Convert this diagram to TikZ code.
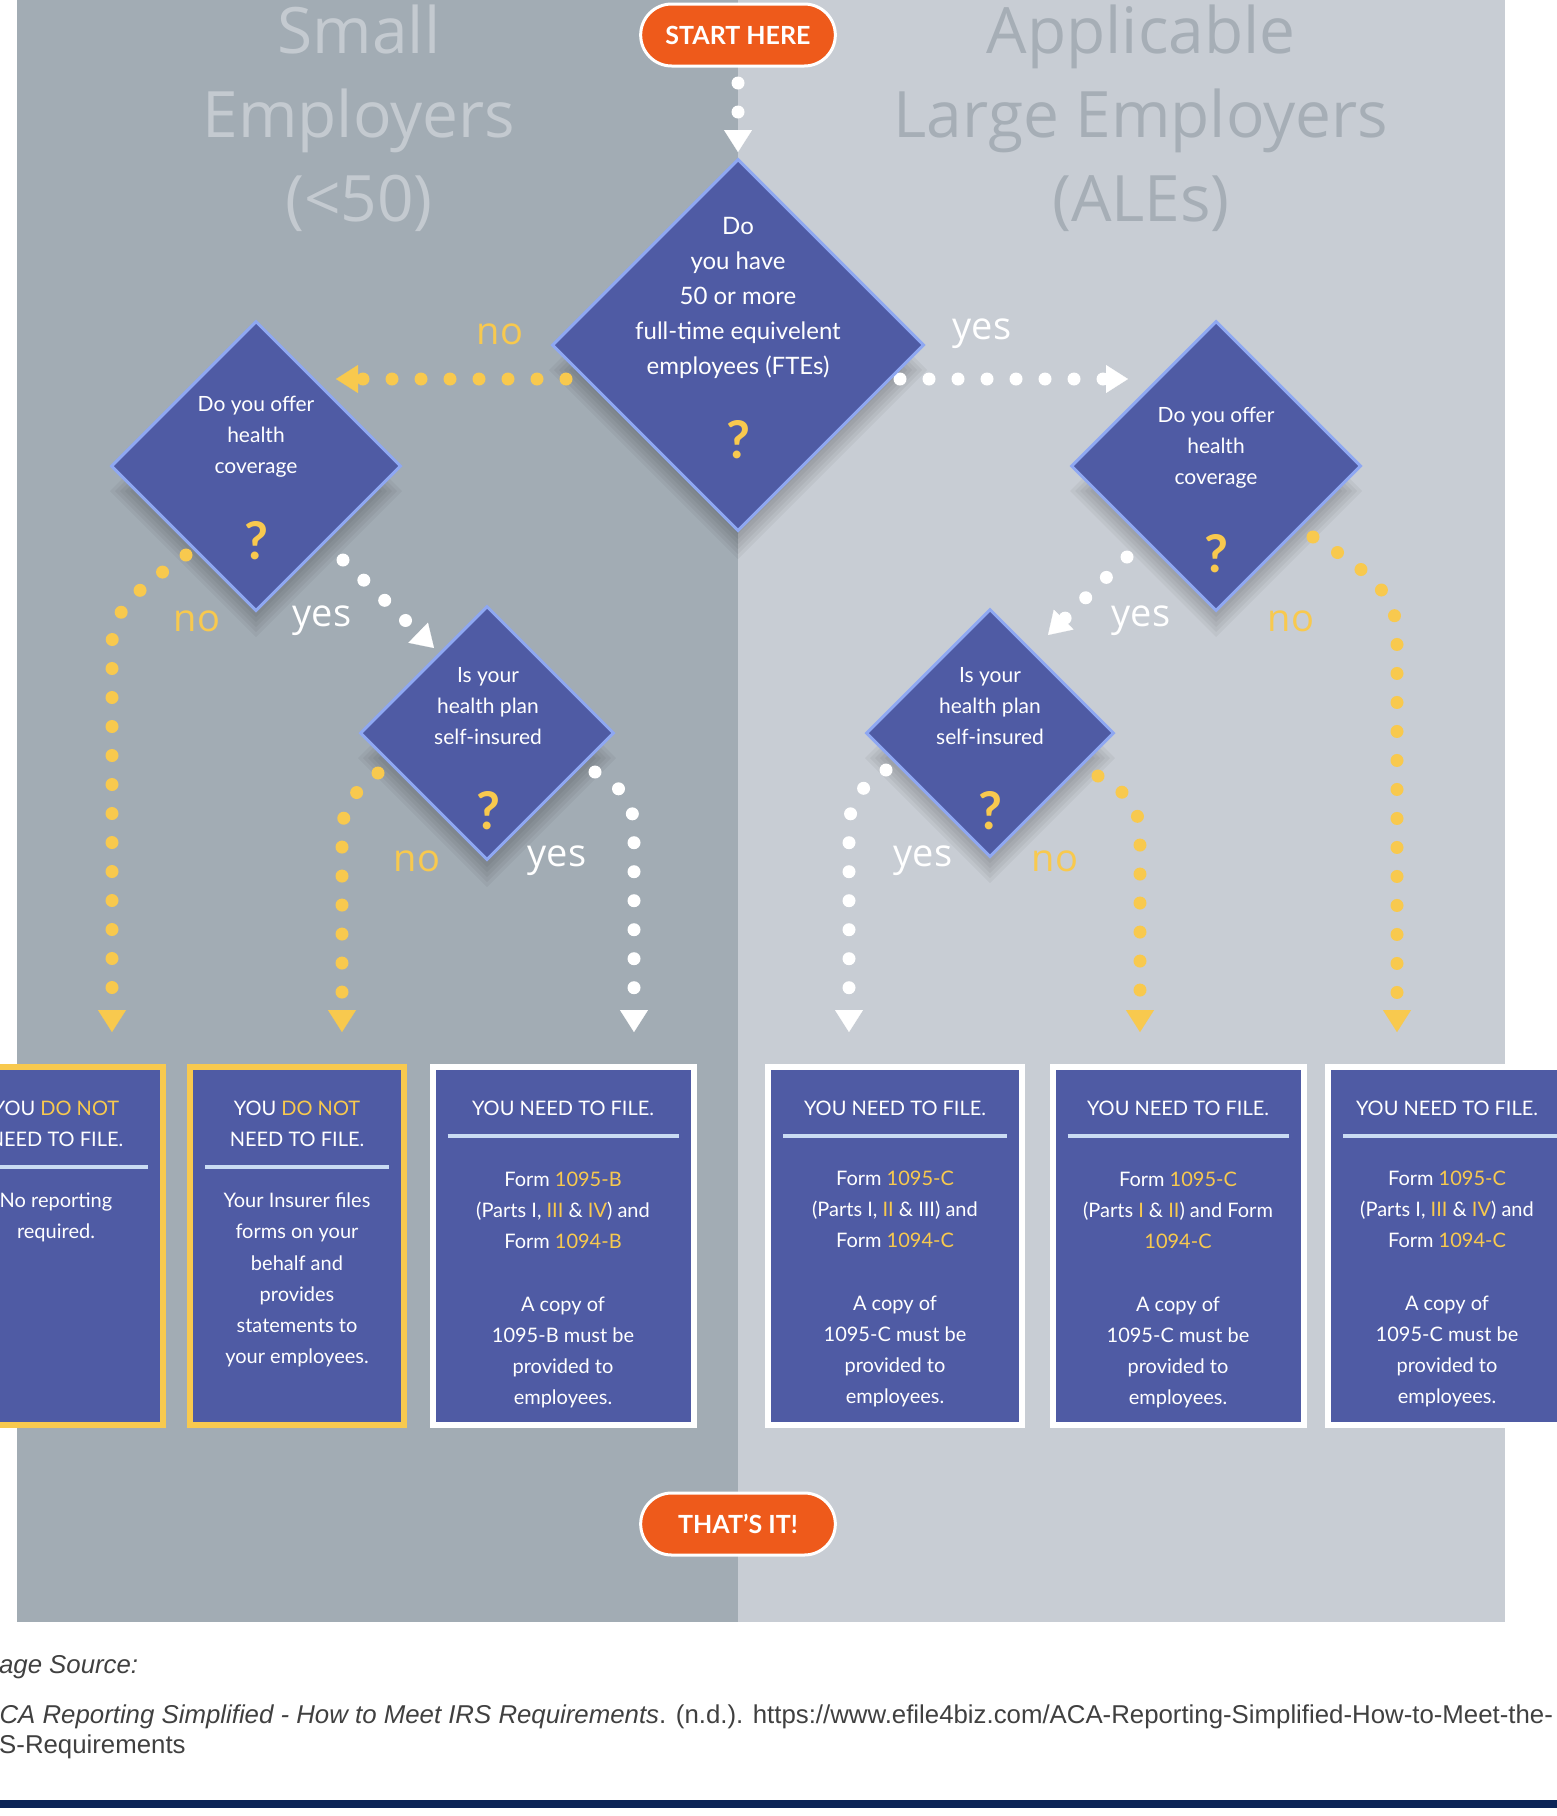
\documentclass[tikz,border=0pt]{standalone}
\usepackage{fontspec}
\setmainfont{Lato}
\newfontfamily\headfont{Open Sans}
\newfontfamily\capfont{Liberation Sans}
\usetikzlibrary{positioning,calc,shapes.geometric,shapes.misc,arrows.meta}
\definecolor{panelL}{HTML}{A2ACB4}
\definecolor{panelR}{HTML}{C8CDD4}
\definecolor{titleL}{HTML}{C4CAD0}
\definecolor{titleR}{HTML}{A6AEB6}
\definecolor{qblue}{HTML}{4F5BA4}
\definecolor{qedge}{HTML}{8FA8F2}
\definecolor{gold}{HTML}{F8C94E}
\definecolor{flame}{HTML}{EE5A1B}
\definecolor{rulecol}{HTML}{CADCF4}
\definecolor{navy}{HTML}{0C2557}
\definecolor{capgray}{HTML}{404040}
\newcommand{\hl}[1]{\textcolor{gold}{#1}}

\begin{document}
\begin{tikzpicture}[x=0.5pt,y=-0.5pt,
  q/.style={diamond,aspect=1,fill=qblue,draw=qedge,line width=1.5pt,inner sep=0pt},
  qtext/.style={text=white,align=center,font=\fontsize{10.5}{15.6}\selectfont},
  qmark/.style={text=gold,font=\fontsize{26}{26}\selectfont\bfseries},
  pill/.style={rounded rectangle,fill=flame,draw=white,line width=1.5pt,minimum width=104pt,minimum height=31pt,text=white,font=\fontsize{12.5}{12.5}\selectfont\bfseries},
  res/.style={rectangle,fill=qblue,line width=3pt,minimum height=179pt},
  restext/.style={text=white,align=center,font=\fontsize{10}{15.6}\selectfont},
  sep/.style={draw=rulecol,line width=2pt},
  lbl/.style={font=\headfont\fontsize{19}{19}\selectfont},
  dots/.style={line width=6.5pt,line cap=round,dash pattern=on 0pt off 14.5pt,-{Triangle[width=14pt,length=11pt,line width=0.1pt]}},
  src/.style={anchor=west,inner sep=0pt,text=capgray,font=\capfont\fontsize{12.9}{15}\selectfont},
  ]
\useasboundingbox (0,0) rectangle (1557,1816);
% two panels
\fill[panelL] (17,0) rectangle (738,1622);
\fill[panelR] (738,0) rectangle (1505,1622);
\node[font=\headfont\fontsize{32}{42}\selectfont,text=titleL,align=center] (small) at (359,118) {Small\\Employers\\(<50)};
\node[font=\headfont\fontsize{32}{42}\selectfont,text=titleR,align=center] (ale) at (1141,118) {Applicable\\Large Employers\\(ALEs)};

% soft shadows under the questions
\foreach \x/\y/\s in {738/345/188,256/466/145,1216/466/145,487/733/128,990/733/124}
  \foreach \k in {1,...,6}
    \fill[black,opacity=0.045] (\x,{\y+25-\s-6+\k*5}) -- ({\x+\s+6-\k*5},\y+25) -- (\x,{\y+25+\s+6-\k*5}) -- ({\x-\s-6+\k*5},\y+25) -- cycle;

% connector ends
\coordinate (s0) at (738,83);
\coordinate (s1) at (738,152);
\coordinate (mno0) at (566,379);
\coordinate (mno1) at (336,379);
\coordinate (myes0) at (900,379);
\coordinate (myes1) at (1128,379);
\coordinate (clno0) at (186,555);
\coordinate (clno1) at (112,1032);
\coordinate (clyes0) at (343,560);
\coordinate (clyes1) at (434,648);
\coordinate (slno0) at (378,773);
\coordinate (slno1) at (342,1032);
\coordinate (slyes0) at (595,772);
\coordinate (slyes1) at (634,1032);
\coordinate (cryes0) at (1127,557);
\coordinate (cryes1) at (1048,635);
\coordinate (crno0) at (1313,537);
\coordinate (crno1) at (1397,1032);
\coordinate (sryes0) at (886,770);
\coordinate (sryes1) at (849,1032);
\coordinate (srno0) at (1098,776);
\coordinate (srno1) at (1140,1032);

\draw[dots,white] (s0) -- (s1);
\draw[dots,gold] (mno0) -- (mno1);
\draw[dots,white] (myes0) -- (myes1);
\draw[dots,gold] (clno0) .. controls (140,588) and (112,608) .. (112,645) -- (clno1);
\draw[dots,white] (clyes0) -- (clyes1);
\draw[dots,gold] (slno0) .. controls (356,790) and (342,805) .. (342,835) -- (slno1);
\draw[dots,white] (slyes0) .. controls (620,786) and (634,800) .. (634,830) -- (slyes1);
\draw[dots,white] (cryes0) -- (cryes1);
\draw[dots,gold] (crno0) .. controls (1360,566) and (1397,590) .. (1397,635) -- (crno1);
\draw[dots,white] (sryes0) .. controls (862,786) and (849,800) .. (849,830) -- (sryes1);
\draw[dots,gold] (srno0) .. controls (1124,790) and (1140,805) .. (1140,835) -- (srno1);

% questions
\node[q,minimum size=186pt] (fte) at (738,345) {};
\node[q,minimum size=145pt] (covL) at (256,466) {};
\node[q,minimum size=145pt] (covR) at (1216,466) {};
\node[q,minimum size=127pt] (selfL) at (487,733) {};
\node[q,minimum size=124pt] (selfR) at (990,733) {};
\node[qtext,font=\fontsize{12}{17.4}\selectfont] (fte-t) at (738,298) {Do\\you have\\50 or more\\full-time equivelent\\employees (FTEs)};
\node[qmark] (fte-q) at (738,440) {?};
\node[qtext] (covL-t) at (256,437) {Do you offer\\health\\coverage};
\node[qmark] (covL-q) at (256,541) {?};
\node[qtext] (covR-t) at (1216,448) {Do you offer\\health\\coverage};
\node[qmark] (covR-q) at (1216,554) {?};
\node[qtext] (selfL-t) at (488,706) {Is your\\health plan\\self-insured};
\node[qmark] (selfL-q) at (488,811) {?};
\node[qtext] (selfR-t) at (990,706) {Is your\\health plan\\self-insured};
\node[qmark] (selfR-q) at (990,811) {?};

% answers
\node[lbl,text=gold] (fte-no) at (500,334) {no};
\node[lbl,text=white] (fte-yes) at (982,334) {yes};
\node[lbl,text=gold] (covL-no) at (197,621) {no};
\node[lbl,text=white] (covL-yes) at (322,621) {yes};
\node[lbl,text=gold] (selfL-no) at (417,861) {no};
\node[lbl,text=white] (selfL-yes) at (557,861) {yes};
\node[lbl,text=white] (covR-yes) at (1141,621) {yes};
\node[lbl,text=gold] (covR-no) at (1291,621) {no};
\node[lbl,text=white] (selfR-yes) at (923,861) {yes};
\node[lbl,text=gold] (selfR-no) at (1055,861) {no};

% results
\node[res,draw=gold,minimum width=107pt] (b1) at (56,1246) {};
\node[res,draw=gold,minimum width=107pt] (b2) at (297,1246) {};
\node[res,draw=white,minimum width=130.5pt] (b3) at (563,1246) {};
\node[res,draw=white,minimum width=127pt] (b4) at (895,1246) {};
\node[res,draw=white,minimum width=125.5pt] (b5) at (1178,1246) {};
\node[res,draw=white,minimum width=122pt] (b6) at (1450,1246) {};
\foreach \b in {b1,b2}
  \draw[sep] ($(\b.north west)+(18,103)$) -- ($(\b.north east)+(-18,103)$);
\foreach \b in {b3,b4,b5,b6}
  \draw[sep] ($(\b.north west)+(18,72)$) -- ($(\b.north east)+(-18,72)$);
\node[restext] (b1-h) at (56,1124) {YOU \hl{DO NOT}\\NEED TO FILE.};
\node[restext] (b2-h) at (297,1124) {YOU \hl{DO NOT}\\NEED TO FILE.};
\node[restext] (b3-h) at (563,1108) {YOU NEED TO FILE.};
\node[restext] (b4-h) at (895,1108) {YOU NEED TO FILE.};
\node[restext] (b5-h) at (1178,1108) {YOU NEED TO FILE.};
\node[restext] (b6-h) at (1447,1108) {YOU NEED TO FILE.};
\node[restext] (b1-t) at (56,1217) {No reporting\\required.};
\node[restext] (b2-t) at (297,1280) {Your Insurer files\\forms on your\\behalf and\\provides\\statements to\\your employees.};
\node[restext] (b3-t) at (563,1290) {Form \hl{1095-B}\\(Parts I, \hl{III} \& \hl{IV}) and\\Form \hl{1094-B}\\[15.6pt]A copy of\\1095-B must be\\provided to\\employees.};
\node[restext] (b4-t) at (895,1289) {Form \hl{1095-C}\\(Parts I, \hl{II} \& III) and\\Form \hl{1094-C}\\[15.6pt]A copy of\\1095-C must be\\provided to\\employees.};
\node[restext] (b5-t) at (1178,1290) {Form \hl{1095-C}\\(Parts \hl{I} \& \hl{II}) and Form\\\hl{1094-C}\\[15.6pt]A copy of\\1095-C must be\\provided to\\employees.};
\node[restext] (b6-t) at (1447,1289) {Form \hl{1095-C}\\(Parts I, \hl{III} \& \hl{IV}) and\\Form \hl{1094-C}\\[15.6pt]A copy of\\1095-C must be\\provided to\\employees.};

\node[pill] (start) at (738,35) {START HERE};
\node[pill] (done) at (738,1524) {THAT’S IT!};

% source
\node[src] (srchead) at (-30,1667) {\textit{Image Source:}};
\node[src] (ref1) at (-18,1717) {\textit{ACA Reporting Simplified - How to Meet IRS Requirements}. (n.d.). https://www.efile4biz.com/ACA-Reporting-Simplified-How-to-Meet-the-};
\node[src] (ref2) at (-27,1747) {IRS-Requirements};
\fill[navy] (0,1800) rectangle (1557,1808);
\end{tikzpicture}
\end{document}
